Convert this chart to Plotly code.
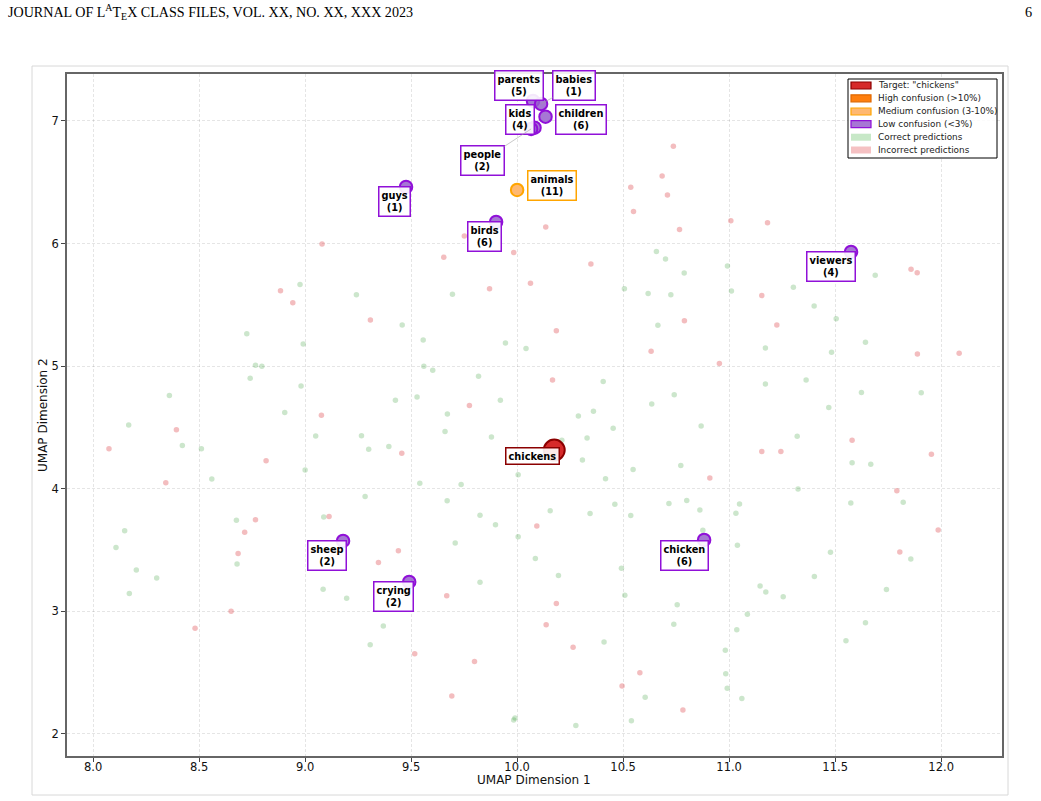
import plotly.graph_objects as go

# ---------------- data ----------------
incorrect_x = [9.654, 9.984, 10.063, 8.884, 8.942, 9.308, 9.870, 9.775, 9.077, 8.393, 8.075, 8.816,
               9.456, 8.343, 8.766, 9.113, 8.715, 8.684, 9.440, 9.346, 9.668, 10.093, 8.651, 8.481,
               9.517, 9.799, 9.692, 9.080, 9.751,
               10.737, 10.684, 10.536, 10.709, 10.549, 10.135, 11.008, 11.181, 10.766, 10.348,
               11.858, 11.887, 11.154, 11.225, 10.789, 10.185, 10.632, 11.888, 12.085, 10.954,
               10.167, 11.580, 11.154, 11.244, 11.954, 10.909, 11.791, 11.986, 11.805, 10.185,
               10.137, 10.264, 10.579, 10.495, 10.782]
incorrect_y = [5.888, 5.926, 5.676, 5.616, 5.518, 5.377, 5.632, 4.678, 4.600, 4.482, 4.327, 4.229,
               4.289, 4.049, 3.748, 3.773, 3.645, 3.471, 3.495, 3.398, 3.128, 3.697, 3.001, 2.862,
               2.655, 2.590, 2.310, 5.997, 6.062,
               6.793, 6.551, 6.460, 6.395, 6.261, 6.134, 6.186, 6.170, 6.114, 5.834,
               5.791, 5.762, 5.576, 5.335, 5.370, 5.289, 5.122, 5.099, 5.106, 5.021,
               4.887, 4.395, 4.304, 4.304, 4.281, 4.088, 3.984, 3.664, 3.484, 3.064,
               2.891, 2.708, 2.499, 2.392, 2.196]

correct_x = [8.976, 9.242, 9.695, 8.725, 8.991, 9.458, 9.557, 9.945, 10.042, 8.766, 8.796, 8.741,
             8.981, 9.560, 9.602, 9.818, 8.360, 9.426, 9.528, 9.921, 8.168, 8.904, 9.671, 9.660,
             8.421, 8.511, 9.050, 9.266, 9.300, 9.395, 9.879, 8.560, 9.000, 9.541, 9.736, 10.005,
             9.283, 9.670, 8.676, 9.088, 9.825, 9.898, 8.149, 8.108, 10.005, 9.708, 8.679, 10.086,
             8.204, 8.300, 8.171, 9.085, 9.196, 9.825, 9.369, 9.307, 9.984, 9.990,
             10.657, 10.700, 10.992, 10.788, 10.506, 10.618, 10.725, 11.011, 11.689, 11.303,
             11.401, 11.505, 10.664, 11.171, 11.483, 11.643, 10.406, 11.171, 11.363, 11.624,
             11.906, 10.741, 10.635, 11.470, 10.289, 10.360, 10.453, 10.868, 10.330, 11.321,
             10.211, 10.308, 10.547, 10.772, 11.580, 11.668, 10.417, 11.325, 10.156, 10.344,
             10.461, 10.536, 10.716, 10.800, 10.862, 11.049, 11.032, 11.574, 11.821, 10.876,
             11.039, 11.478, 11.857, 10.195, 10.492, 11.402, 11.146, 11.173, 11.255, 11.742,
             10.508, 10.755, 11.086, 10.739, 11.036, 11.643, 10.410, 11.551, 10.982, 10.984,
             10.991, 11.060, 10.604, 10.539, 10.277]
correct_y = [5.665, 5.583, 5.586, 5.265, 5.181, 5.336, 5.214, 5.189, 5.143, 5.007, 4.999, 4.901,
             4.838, 4.999, 4.967, 4.918, 4.760, 4.722, 4.749, 4.722, 4.520, 4.621, 4.610, 4.466,
             4.352, 4.327, 4.431, 4.433, 4.322, 4.344, 4.423, 4.080, 4.153, 4.045, 4.034, 4.115,
             3.936, 3.903, 3.743, 3.770, 3.784, 3.707, 3.658, 3.520, 3.609, 3.558, 3.387, 3.430,
             3.338, 3.272, 3.145, 3.180, 3.107, 3.237, 2.881, 2.728, 2.114, 2.130,
             5.935, 5.873, 5.817, 5.759, 5.631, 5.592, 5.582, 5.612, 5.742, 5.644,
             5.491, 5.387, 5.334, 5.149, 5.113, 5.194, 4.874, 4.855, 4.888, 4.786,
             4.783, 4.767, 4.692, 4.662, 4.594, 4.633, 4.493, 4.512, 4.414, 4.428,
             4.395, 4.235, 4.157, 4.189, 4.212, 4.199, 4.082, 3.997, 3.821, 3.798,
             3.873, 3.782, 3.879, 3.905, 3.827, 3.876, 3.801, 3.883, 3.890, 3.661,
             3.540, 3.482, 3.426, 3.292, 3.351, 3.285, 3.207, 3.158, 3.119, 3.178,
             3.132, 3.054, 2.976, 2.894, 2.849, 2.907, 2.750, 2.760, 2.682, 2.490,
             2.372, 2.290, 2.300, 2.108, 2.069]

target_word = "chickens"
target_x = [10.175]
target_y = [4.315]

medium_words = ["animals"]
medium_counts = [11]
medium_x = [10.000]
medium_y = [6.437]

low_words = ["parents", "babies", "kids", "children", "people", "guys", "birds",
             "viewers", "sheep", "crying", "chicken"]
low_counts = [5, 1, 4, 6, 2, 1, 6, 4, 2, 2, 6]
low_x = [10.075, 10.113, 10.082, 10.134, 10.066, 9.476, 9.901, 11.575, 9.179, 9.491, 10.882]
low_y = [7.163, 7.139, 6.945, 7.035, 6.935, 6.462, 6.176, 5.932, 3.574, 3.240, 3.582]

legend_labels = ['Target: "chickens"', "High confusion (>10%)", "Medium confusion (3-10%)",
                 "Low confusion (<3%)", "Correct predictions", "Incorrect predictions"]

x_ticks = [8.0, 8.5, 9.0, 9.5, 10.0, 10.5, 11.0, 11.5, 12.0]
x_ticktext = ["8.0", "8.5", "9.0", "9.5", "10.0", "10.5", "11.0", "11.5", "12.0"]
y_ticks = [2, 3, 4, 5, 6, 7]

# ---------------- style ----------------
L, R, T, B = 67, 1002, 74, 756
W, H = 1041, 801


def px(xp):
    return (xp - L) / (R - L)


def py(yp):
    return (B - yp) / (B - T)


PURPLE_FILL = "rgba(150,95,205,0.85)"
PURPLE_EDGE = "#9010D8"
ORANGE_FILL = "#FFB870"
ORANGE_EDGE = "#FFA500"
RED_FILL = "#D62A2A"
RED_EDGE = "#8B0000"
GREEN = "rgba(0,128,0,0.2)"
PINK = "rgba(225,90,95,0.4)"

fig = go.Figure()

fig.add_trace(go.Scatter(x=correct_x, y=correct_y, mode="markers",
                         marker=dict(size=5.5, color=GREEN), showlegend=False, hoverinfo="skip"))
fig.add_trace(go.Scatter(x=incorrect_x, y=incorrect_y, mode="markers",
                         marker=dict(size=5.5, color=PINK), showlegend=False, hoverinfo="skip"))
fig.add_trace(go.Scatter(x=low_x, y=low_y, mode="markers",
                         marker=dict(size=12.5, color=PURPLE_FILL, line=dict(color=PURPLE_EDGE, width=2)),
                         showlegend=False, text=low_words))
fig.add_trace(go.Scatter(x=medium_x, y=medium_y, mode="markers",
                         marker=dict(size=12.5, color=ORANGE_FILL, line=dict(color=ORANGE_EDGE, width=2)),
                         showlegend=False, text=medium_words))
fig.add_trace(go.Scatter(x=target_x, y=target_y, mode="markers",
                         marker=dict(size=21, color=RED_FILL, line=dict(color=RED_EDGE, width=2)),
                         showlegend=False, text=[target_word]))

annotations = []
shapes = []

# label offsets in pixels (label centre minus point), and which labels draw a leader line
offsets = {
    "parents": (-14, -15, False), "babies": (33, -18, True), "kids": (-15, -8, False),
    "children": (35, 3, False), "people": (-49, 32, True), "guys": (-12, 15, False),
    "birds": (-12, 15, False), "viewers": (-20, 15, False), "sheep": (-16, 15, False),
    "crying": (-16, 15, False), "chicken": (-20, 16, False), "animals": (35, -4, False),
}
LABEL_FONT = dict(family="DejaVu Sans", size=9.8, color="black", weight="bold")


def add_label(word, cnt, x, y, edge):
    dx, dy, line = offsets[word]
    text = f"<b>{word}</b><br><b>({cnt})</b>"
    common = dict(x=x, y=y, xref="x", yref="y", text=text, font=LABEL_FONT,
                  bgcolor="rgba(255,255,255,0.9)", bordercolor=edge, borderwidth=1.5,
                  borderpad=2, align="center")
    if line:
        annotations.append(dict(**common, showarrow=True, ax=dx, ay=dy, arrowhead=0,
                                arrowwidth=0.8, arrowcolor="rgba(160,160,160,0.7)", standoff=0))
    else:
        annotations.append(dict(**common, showarrow=False, xshift=dx, yshift=-dy))


for w, c, x, y in zip(low_words, low_counts, low_x, low_y):
    add_label(w, c, x, y, PURPLE_EDGE)
for w, c, x, y in zip(medium_words, medium_counts, medium_x, medium_y):
    add_label(w, c, x, y, ORANGE_EDGE)

annotations.append(dict(x=target_x[0], y=target_y[0], xref="x", yref="y",
                        text=f"<b>{target_word}</b>", font=LABEL_FONT, showarrow=False,
                        xshift=-22, yshift=-6, bgcolor="rgba(255,255,255,0.9)",
                        bordercolor=RED_EDGE, borderwidth=1.5, borderpad=2))

# figure frame
shapes.append(dict(type="rect", xref="paper", yref="paper", x0=px(32), x1=px(1008),
                   y0=py(795), y1=py(66), line=dict(color="#d8d8d8", width=1), layer="below"))

# legend box
shapes.append(dict(type="rect", xref="paper", yref="paper", x0=px(848), x1=px(997),
                   y0=py(158), y1=py(79), line=dict(color="black", width=1),
                   fillcolor="rgba(255,255,255,0.85)", layer="above"))
legend_fill = [RED_FILL, "#FF7F0E", ORANGE_FILL, "rgba(150,95,205,0.85)",
               "rgba(0,150,0,0.22)", "rgba(230,100,105,0.4)"]
legend_edge = [RED_EDGE, "#E06800", ORANGE_EDGE, PURPLE_EDGE, None, None]
legend_y = [85.5, 98.3, 111.5, 124.2, 137.2, 150.0]
for lab, fc, ec, yc in zip(legend_labels, legend_fill, legend_edge, legend_y):
    shapes.append(dict(type="rect", xref="paper", yref="paper", x0=px(851), x1=px(871),
                       y0=py(yc + 3.5), y1=py(yc - 3.5), fillcolor=fc,
                       line=dict(color=ec if ec else "rgba(0,0,0,0)", width=1.2 if ec else 0),
                       layer="above"))
    annotations.append(dict(x=px(876), y=py(yc), xref="paper", yref="paper", text=lab,
                            showarrow=False, xanchor="left", yanchor="middle",
                            font=dict(family="DejaVu Sans", size=8.9, color="#222")))

# axis titles
annotations.append(dict(x=px(534), y=py(780), xref="paper", yref="paper", text="UMAP Dimension 1",
                        showarrow=False, xanchor="center", yanchor="middle",
                        font=dict(family="DejaVu Sans", size=12, color="#111")))
annotations.append(dict(x=px(43), y=py(415), xref="paper", yref="paper", text="UMAP Dimension 2",
                        showarrow=False, xanchor="center", yanchor="middle", textangle=-90,
                        font=dict(family="DejaVu Sans", size=12, color="#111")))

# page header
annotations.append(dict(x=px(6), y=py(12), xref="paper", yref="paper",
                        text="JOURNAL OF L<sup>A</sup>T<sub>E</sub>X CLASS FILES, VOL. XX, NO. XX, XXX 2023",
                        showarrow=False, xanchor="left", yanchor="middle",
                        font=dict(family="Liberation Serif", size=14.1, color="black")))
annotations.append(dict(x=px(1034), y=py(12), xref="paper", yref="paper", text="6",
                        showarrow=False, xanchor="right", yanchor="middle",
                        font=dict(family="Liberation Serif", size=14.3, color="black")))

axis_common = dict(showline=True, linecolor="#666", linewidth=1.5, mirror=True,
                   ticks="outside", ticklen=4, tickwidth=1, tickcolor="#444",
                   showgrid=True, gridcolor="rgba(0,0,0,0.10)", griddash="3px,2px", gridwidth=0.8,
                   zeroline=False, automargin=False,
                   tickfont=dict(family="DejaVu Sans", size=11.5, color="#111"))

fig.update_layout(
    width=W, height=H,
    margin=dict(l=L, r=W - R, t=T, b=H - B, autoexpand=False),
    paper_bgcolor="white", plot_bgcolor="white",
    showlegend=False,
    xaxis=dict(range=[7.877, 12.287], tickvals=x_ticks, ticktext=x_ticktext,
               ticklabelstandoff=-5, **axis_common),
    yaxis=dict(range=[1.820, 7.383], tickvals=y_ticks, **axis_common),
    annotations=annotations,
    shapes=shapes,
)

fig.write_html("out.html")
